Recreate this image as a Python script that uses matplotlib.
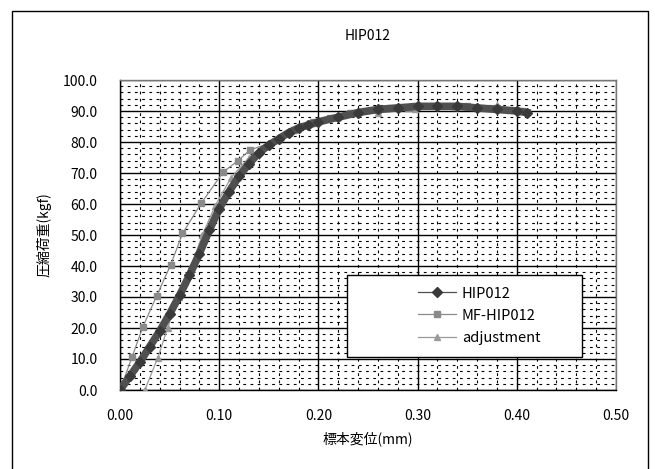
import matplotlib
matplotlib.use("Agg")
import matplotlib.pyplot as plt
from matplotlib.patches import Rectangle
from matplotlib.ticker import MultipleLocator, FormatStrFormatter

plt.rcParams['font.family'] = ['Noto Sans CJK JP', 'DejaVu Sans']

# データ
hip_x = [0.0, 0.01, 0.02, 0.03, 0.04, 0.05, 0.06, 0.07, 0.08, 0.09, 0.10,
         0.11, 0.12, 0.13, 0.14, 0.15, 0.16, 0.17, 0.18, 0.19, 0.20, 0.22,
         0.24, 0.26, 0.28, 0.30, 0.32, 0.34, 0.36, 0.38, 0.40, 0.41]
hip_y = [0.0, 4.5, 9.0, 14.0, 19.0, 24.5, 30.5, 37.0, 44.0, 51.5, 58.5,
         64.0, 69.0, 73.0, 76.5, 79.0, 81.0, 83.0, 84.5, 85.5, 86.5, 88.0,
         89.5, 90.5, 91.0, 91.5, 91.5, 91.5, 91.0, 90.5, 90.0, 89.5]

mf_x = [0.0, 0.012, 0.023, 0.037, 0.051, 0.063, 0.082, 0.104, 0.119, 0.131,
        0.159, 0.175, 0.195, 0.212, 0.232, 0.26, 0.29, 0.32, 0.35, 0.38, 0.405]
mf_y = [0.0, 10.5, 20.3, 30.4, 40.3, 50.5, 60.3, 70.3, 74.0, 77.4,
        80.6, 83.9, 86.5, 87.7, 89.3, 90.3, 91.0, 91.5, 91.5, 91.0, 90.0]

adj_x = [0.025, 0.038, 0.048, 0.059, 0.072, 0.083, 0.096, 0.112, 0.13, 0.15,
         0.17, 0.195, 0.22, 0.26, 0.297, 0.338, 0.38]
adj_y = [0.0, 10.3, 20.0, 30.0, 40.0, 50.0, 59.5, 68.5, 75.0, 79.5,
         83.0, 86.0, 88.0, 89.5, 90.5, 91.3, 91.8]

series_names = ['HIP012', 'MF-HIP012', 'adjustment']

fig = plt.figure(figsize=(6.55, 4.69), dpi=100)
ax = fig.add_axes([120 / 655, 1 - 390 / 469, 496 / 655, 310 / 469])

# 外枠
fig.patches.append(Rectangle((12 / 655, -0.05), 636 / 655, 1 - 11 / 469 + 0.05,
                             transform=fig.transFigure, fill=False,
                             edgecolor='black', linewidth=1.0))

ax.plot(adj_x, adj_y, color='#9a9a9a', linewidth=0.9, marker='^',
        markersize=5, markerfacecolor='#9a9a9a', markeredgecolor='#9a9a9a',
        label=series_names[2], zorder=3)
ax.plot(mf_x, mf_y, color='#8a8a8a', linewidth=0.9, marker='s',
        markersize=5, markerfacecolor='#8a8a8a', markeredgecolor='#8a8a8a',
        label=series_names[1], zorder=4)
ax.plot(hip_x, hip_y, color='#505050', linewidth=5.5, marker='D',
        markersize=5, markerfacecolor='#3a3a3a', markeredgecolor='#3a3a3a',
        label=series_names[0], zorder=5)

ax.set_xlim(0, 0.5)
ax.set_ylim(0, 100)
ax.xaxis.set_major_locator(MultipleLocator(0.1))
ax.xaxis.set_minor_locator(MultipleLocator(0.02))
ax.yaxis.set_major_locator(MultipleLocator(10))
ax.yaxis.set_minor_locator(MultipleLocator(2))
ax.xaxis.set_major_formatter(FormatStrFormatter('%.2f'))
ax.yaxis.set_major_formatter(FormatStrFormatter('%.1f'))

ax.grid(which='major', color='black', linewidth=1.0, linestyle='-')
ax.grid(which='minor', color='black', linewidth=0.8, linestyle=(0, (2.5, 4)))
ax.set_axisbelow(True)
ax.tick_params(which='both', length=0)
ax.tick_params(axis='x', pad=14, labelsize=10)
ax.tick_params(axis='y', pad=16, labelsize=10)
for s in ax.spines.values():
    s.set_color('black')
    s.set_linewidth(1.0)
ax.spines['top'].set_color('#777777')
ax.spines['right'].set_color('#777777')

ax.set_title('HIP012', fontsize=10, pad=29)
ax.set_xlabel('標本変位(mm)', fontsize=10, labelpad=6)
ax.set_ylabel('圧縮荷重(kgf)', fontsize=10, labelpad=8)

# 凡例の枠
ax.add_patch(Rectangle((0.229, 10.6), 0.237, 26.5, facecolor='white',
                       edgecolor='black', linewidth=1.0, zorder=8))
handles, labels = ax.get_legend_handles_labels()
order = [2, 1, 0]
leg = ax.legend([handles[i] for i in order], [labels[i] for i in order],
                loc='center', bbox_to_anchor=(0.362, 24.0),
                bbox_transform=ax.transData, frameon=False,
                fontsize=10.5, handlelength=2.6, handletextpad=0.4,
                labelspacing=0.55)
leg.set_zorder(9)
for h in leg.legend_handles:
    h.set_linewidth(0.9)

fig.savefig('out.png', dpi=100)
